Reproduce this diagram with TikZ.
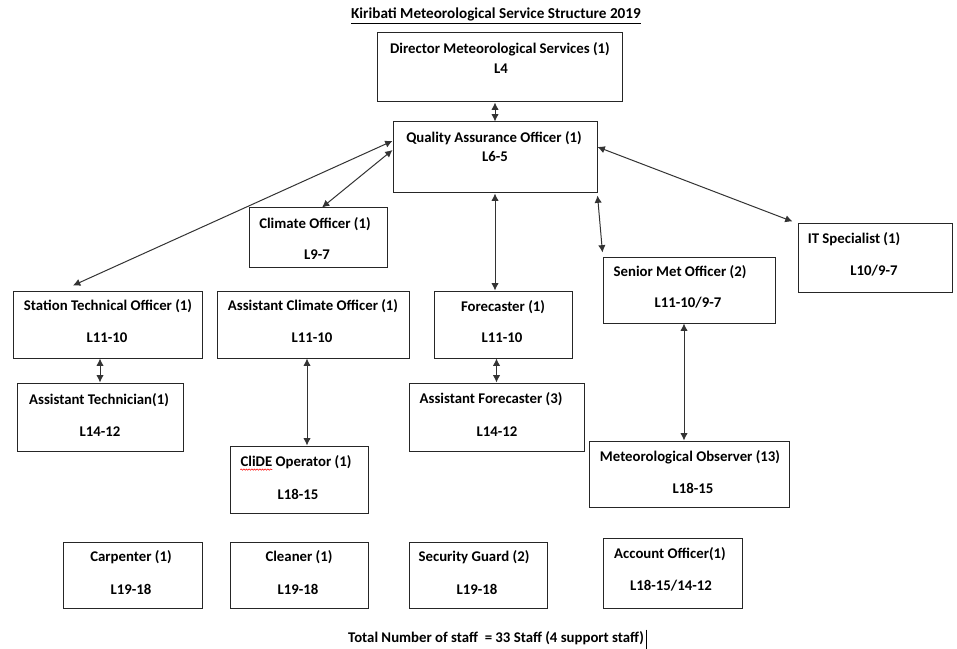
\documentclass[tikz,border=0pt]{standalone}
\usepackage{fontspec}
\setmainfont{Carlito}
\usetikzlibrary{arrows.meta,decorations.pathmorphing}
\begin{document}
\begin{tikzpicture}[x=0.75pt,y=-0.75pt,
  box/.style 2 args={draw=black!85, line width=0.75pt, minimum width=#1*0.75pt, minimum height=#2*0.75pt, inner sep=0pt},
  txt/.style={inner sep=0pt, font=\fontsize{11.1}{13}\selectfont\bfseries},
  link/.style={draw=black!80, line width=0.75pt, {Latex[length=5.5pt,width=5.5pt]}-{Latex[length=5.5pt,width=5.5pt]}}]
\useasboundingbox (0,0) rectangle (957,649);
\fill[white] (0,0) rectangle (957,649);

% boxes
\node (dir)   [box={245}{69}] at (499.5,67.5) {};
\node (qa)    [box={204}{71}] at (495,157.5) {};
\node (clim)  [box={138}{59}] at (318,237.5) {};
\node (stech) [box={189}{67}] at (107.5,324.5) {};
\node (aclim) [box={192}{67}] at (313,324.5) {};
\node (fc)    [box={138}{67}] at (503,324.5) {};
\node (smo)   [box={172}{66}] at (689,290) {};
\node (it)    [box={154}{68}] at (875,258) {};
\node (atech) [box={166}{68}] at (100,417) {};
\node (af)    [box={175}{68}] at (496.5,417) {};
\node (clide) [box={138}{67}] at (299,479.5) {};
\node (mo)    [box={200}{66}] at (689,474) {};
\node (carp)  [box={139}{66}] at (132.5,575) {};
\node (clean) [box={138}{66}] at (299,575) {};
\node (sec)   [box={138}{66}] at (478,575) {};
\node (acc)   [box={139}{70}] at (672.5,573) {};

% texts
\node (title) [txt, font=\fontsize{11.4}{13}\selectfont\bfseries] at (496,16) {\underline{Kiribati Meteorological Service Structure 2019}};
\node (dir1) [txt] at (500,49) {Director Meteorological Services (1)};
\node (dir2) [txt] at (501,69) {L4};
\node (qa1) [txt] at (494,138) {Quality Assurance Officer (1)};
\node (qa2) [txt] at (495,157) {L6-5};
\node (clim1) [txt] at (315,224) {Climate Officer (1)};
\node (clim2) [txt] at (317,255) {L9-7};
\node (stech1) [txt] at (108,306) {Station Technical Officer (1)};
\node (stech2) [txt] at (107,338) {L11-10};
\node (aclim1) [txt] at (313,306) {Assistant Climate Officer (1)};
\node (aclim2) [txt] at (312,338) {L11-10};
\node (atech1) [txt] at (99,400) {Assistant Technician(1)};
\node (atech2) [txt] at (100,432) {L14-12};
\node (clide1) [txt] at (296,462) {CliDE Operator (1)};
\node (clide2) [txt] at (298,494) {L18-15};
\node (carp1) [txt] at (131,557) {Carpenter (1)};
\node (carp2) [txt] at (131,589) {L19-18};
\node (clean1) [txt] at (299,557) {Cleaner (1)};
\node (clean2) [txt] at (298,589) {L19-18};
\node (sec1) [txt] at (474,557) {Security Guard (2)};
\node (sec2) [txt] at (477,589) {L19-18};
\node (acc1) [txt] at (670,554) {Account Officer(1)};
\node (acc2) [txt] at (671,586) {L18-15/14-12};
\node (mo1) [txt] at (690,457) {Meteorological Observer (13)};
\node (mo2) [txt] at (693,488) {L18-15};
\node (fc1) [txt] at (503,307) {Forecaster (1)};
\node (fc2) [txt] at (502,338) {L11-10};
\node (af1) [txt] at (491,399) {Assistant Forecaster (3)};
\node (af2) [txt] at (497,432) {L14-12};
\node (smo1) [txt] at (680,272) {Senior Met Officer (2)};
\node (smo2) [txt] at (688,303) {L11-10/9-7};
\node (it1) [txt] at (854,239) {IT Specialist (1)};
\node (it2) [txt] at (874,271) {L10/9-7};
\node (total) [txt] at (496,638) {Total Number of staff~~= 33 Staff (4 support staff)};

% spell-check squiggle and cursor
\draw[red, line width=0.4pt, decorate, decoration={snake, amplitude=0.5pt, segment length=2pt}]
  ([yshift=-0.5pt]clide1.south west) -- ++(32,0);
\draw[black, line width=0.7pt] ([xshift=1.5pt,yshift=1pt]total.north east) -- ([xshift=1.5pt,yshift=-3pt]total.south east);

% connectors
\draw[link] (qa.north |- dir.south) -- (qa.north);
\draw[link] ([yshift=12.4pt]qa.west) -- ([xshift=-25.9pt,yshift=3.75pt]stech.north);
\draw[link] ([yshift=5.6pt]qa.west) -- ([xshift=3pt]clim.north);
\draw[link] (qa.south) -- (qa.south |- fc.north);
\draw[link] ([yshift=-1.5pt]qa.south east) -- ([yshift=3pt]smo.north west);
\draw[link] ([yshift=7.9pt]qa.east) -- ([xshift=-3.75pt,yshift=1.5pt]it.north west);
\draw[link] (atech.north) -- (atech.north |- stech.south);
\draw[link] ([xshift=-4.5pt]aclim.south) -- ([xshift=-4.5pt]aclim.south |- clide.north);
\draw[link] (af.north) -- (af.north |- fc.south);
\draw[link] ([xshift=-3.75pt]smo.south) -- ([xshift=-3.75pt]smo.south |- mo.north);
\end{tikzpicture}
\end{document}
